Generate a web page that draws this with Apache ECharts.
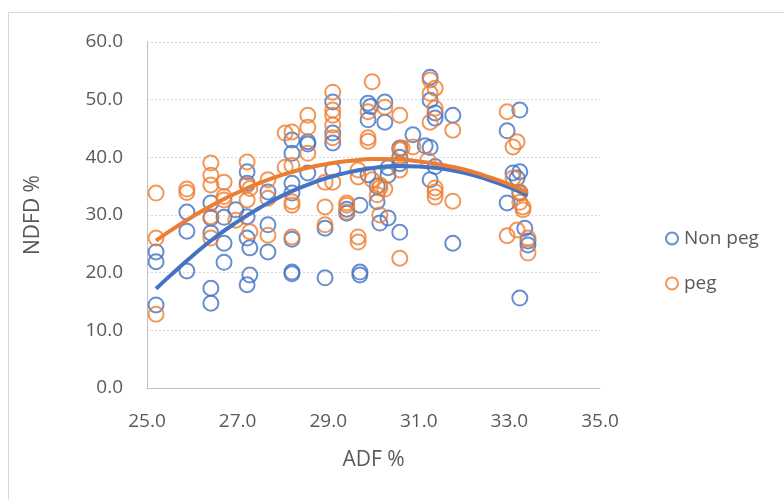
<!DOCTYPE html>
<html>
<head>
<meta charset="utf-8">
<script src="https://cdn.jsdelivr.net/npm/echarts@6/dist/echarts.min.js"></script>
<style>html,body{margin:0;padding:0;background:#fff}#c{width:784px;height:500px}</style>
</head>
<body>
<div id="c"></div>
<script>
// Non peg points (ADF %, NDFD %)
const nonPegPoints = [
[25.2,14.4],[25.2,21.9],[25.2,23.6],
[25.88,20.3],[25.88,27.2],[25.88,30.5],
[26.41,14.7],[26.41,17.3],[26.41,26.9],[26.41,29.5],[26.41,32.1],
[26.7,21.8],[26.7,25.1],[26.7,29.6],
[26.96,30.9],
[27.21,17.9],[27.21,26.0],[27.21,29.7],[27.21,35.5],[27.21,37.5],
[27.27,19.6],[27.27,24.3],
[27.67,23.6],[27.67,28.3],[27.67,34.0],
[28.2,19.8],[28.2,20.1],[28.2,25.8],[28.2,33.8],[28.2,35.5],[28.2,40.7],[28.2,43.0],
[28.55,37.3],[28.55,42.3],[28.55,42.7],
[28.93,19.1],[28.93,27.7],
[29.1,37.8],[29.1,42.5],[29.1,44.2],[29.1,49.6],
[29.41,30.3],[29.41,31.0],
[29.7,19.6],[29.7,20.1],[29.7,31.7],
[29.88,37.0],[29.88,46.5],[29.88,49.4],[29.93,48.8],
[30.08,32.3],[30.08,35.0],
[30.14,28.6],[30.32,29.5],
[30.25,46.1],[30.25,49.6],
[30.32,36.9],[30.32,38.2],
[30.58,27.0],[30.58,41.6],[30.58,40.0],[30.58,38.9],
[30.87,43.9],
[31.14,42.0],
[31.25,53.9],[31.25,49.9],[31.25,36.1],[31.25,41.7],
[31.36,47.7],[31.36,46.8],[31.36,38.4],
[31.75,47.3],[31.75,25.1],
[32.95,44.6],[32.95,32.1],
[33.08,37.3],[33.17,36.4],
[33.23,48.2],[33.23,15.6],[33.23,33.8],[33.23,37.5],
[33.34,27.7],
[33.41,24.8],[33.41,25.5]
];
// peg points (ADF %, NDFD %)
const pegPoints = [
[25.2,12.8],[25.2,26.0],[25.2,33.8],
[25.88,33.9],[25.88,34.5],
[26.41,26.0],[26.41,29.7],[26.41,35.2],[26.41,36.9],[26.41,39.0],
[26.7,32.6],[26.7,33.2],[26.7,35.7],
[26.96,29.1],
[27.21,32.6],[27.21,35.2],[27.21,39.2],
[27.27,27.1],[27.27,34.6],
[27.67,26.5],[27.67,32.9],[27.67,36.1],
[28.05,38.3],[28.05,44.2],
[28.2,26.2],[28.2,31.7],[28.2,32.3],[28.2,38.6],[28.2,44.4],
[28.55,40.7],[28.55,45.2],[28.55,47.3],
[28.93,28.3],[28.93,31.4],[28.93,35.7],
[29.1,35.7],[29.1,43.4],[29.1,45.6],[29.1,47.3],[29.1,48.2],[29.1,51.3],
[29.41,30.5],[29.41,31.7],[29.41,32.1],
[29.66,25.3],[29.66,26.2],[29.66,36.6],[29.66,37.8],
[29.88,42.8],[29.88,43.4],[29.88,47.9],
[29.97,36.1],[29.97,53.1],
[30.08,33.5],
[30.14,30.0],[30.14,34.7],[30.14,35.2],
[30.25,34.5],[30.25,48.7],
[30.58,22.5],[30.58,37.8],[30.58,41.3],[30.58,47.3],
[30.63,41.6],
[30.87,41.8],
[31.2,39.5],
[31.25,46.1],[31.25,51.1],[31.25,53.4],
[31.36,33.1],[31.36,34.0],[31.36,34.7],[31.36,48.5],[31.36,52.0],
[31.75,32.4],[31.75,44.7],
[32.95,26.4],[32.95,47.9],
[33.08,36.4],[33.08,41.8],
[33.17,27.4],[33.17,42.7],
[33.23,32.2],[33.23,34.0],
[33.3,30.9],[33.3,31.4],
[33.41,23.4],[33.41,26.0]
];
// Trendline values
const trendADF   = [25.2,25.5,26,26.5,27,27.5,28,28.5,29,29.5,30,30.5,31,31.5,32,32.5,33,33.4];
const nonPegTrend= [17.2,19.4,22.9,26.1,28.85,31.3,33.4,35.1,36.5,37.5,38.15,38.5,38.4,38.05,37.3,36.2,34.8,33.4];
const pegTrend   = [25.55,27.2,29.7,31.95,33.9,35.6,37.0,38.1,38.9,39.4,39.7,39.65,39.3,38.7,37.9,36.7,35.3,33.9];
const seriesNames = ['Non peg','peg'];
const xTicks = [25,27,29,31,33,35];
const yTicks = [0,10,20,30,40,50,60];

const BLUE = '#4472C4', ORANGE = '#ED7D31';
const FONT = 'Open Sans';
const chart = echarts.init(document.getElementById('c'), null, {renderer:'canvas'});
const zip = (xs, ys) => xs.map((x,i)=>[x, ys[i]]);

chart.setOption({
  animation:false,
  backgroundColor:'#fff',
  graphic:[{type:'rect', shape:{x:8.5,y:12.5,width:820,height:520}, style:{fill:'none',stroke:'#d9d9d9',lineWidth:1}, silent:true, z:-10}],
  grid:{left:147, right:184, top:42, bottom:112},
  legend:{
    data:seriesNames, orient:'vertical', left:660, top:224, itemGap:26,
    itemWidth:12, itemHeight:12, icon:'circle',
    textStyle:{fontFamily:FONT, fontSize:19, color:'#595959', padding:[0,0,0,1]}
  },
  xAxis:{
    type:'value', min:xTicks[0], max:xTicks[xTicks.length-1], interval:1,
    name:'ADF %', nameLocation:'middle', nameGap:62,
    nameTextStyle:{fontFamily:FONT, fontSize:21, color:'#595959'},
    axisLine:{show:true, lineStyle:{color:'#bfbfbf', width:1}},
    axisTick:{show:false}, splitLine:{show:false},
    axisLabel:{margin:24, fontFamily:FONT, fontSize:19, color:'#595959',
      formatter:v => xTicks.indexOf(v) >= 0 ? v.toFixed(1) : ''}
  },
  yAxis:{
    type:'value', min:yTicks[0], max:yTicks[yTicks.length-1], interval:10,
    name:'NDFD %', nameLocation:'middle', nameGap:103, nameRotate:90,
    nameTextStyle:{fontFamily:FONT, fontSize:21, color:'#595959'},
    axisLine:{show:true, lineStyle:{color:'#bfbfbf', width:1}},
    axisTick:{show:false},
    splitLine:{show:true, lineStyle:{color:'#d9d9d9', type:[2,2], width:1}},
    axisLabel:{margin:24, fontFamily:FONT, fontSize:19, color:'#595959',
      formatter:v => v.toFixed(1)}
  },
  series:[
    {name:seriesNames[0], type:'scatter', data:nonPegPoints, symbol:'circle', symbolSize:15,
     itemStyle:{color:'rgba(255,255,255,0)', borderColor:BLUE, borderWidth:2}, z:2},
    {name:seriesNames[1], type:'scatter', data:pegPoints, symbol:'circle', symbolSize:15,
     itemStyle:{color:'rgba(255,255,255,0)', borderColor:ORANGE, borderWidth:2}, z:3},
    {name:'Non peg trend', type:'line', data:zip(trendADF, nonPegTrend), smooth:true, showSymbol:false,
     lineStyle:{color:BLUE, width:4}, itemStyle:{color:BLUE}, z:4},
    {name:'peg trend', type:'line', data:zip(trendADF, pegTrend), smooth:true, showSymbol:false,
     lineStyle:{color:ORANGE, width:4}, itemStyle:{color:ORANGE}, z:5}
  ]
});
</script>
</body>
</html>
